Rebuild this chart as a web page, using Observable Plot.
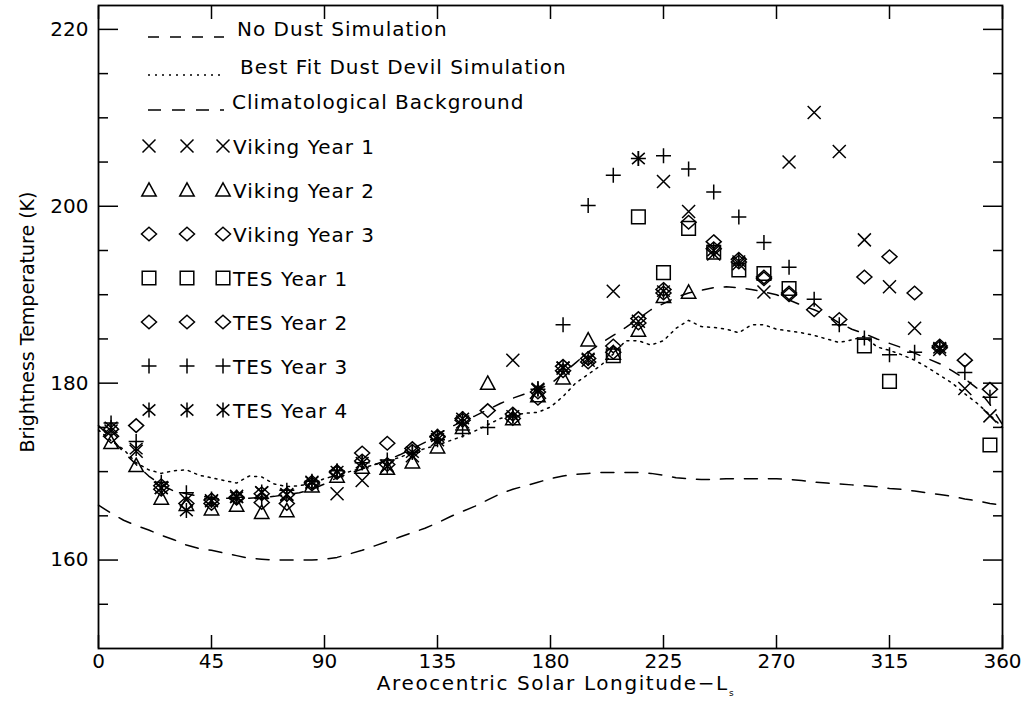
<!DOCTYPE html>
<html><head><meta charset="utf-8">
<script src="https://cdn.jsdelivr.net/npm/d3@7"></script>
<script src="https://cdn.jsdelivr.net/npm/@observablehq/plot@0.6"></script>
<style>body{margin:0;background:#fff;} #chart{width:1029px;height:721px;}</style>
</head><body><div id="chart"></div>
<script>
// ---- Observations (Ls bins) ----
const lsObs = [5,15,25,35,45,55,65,75,85,95,105,115,125,135,145,155,165,175,185,195,205,215,225,235,245,255,265,275,285,295,305,315,325,335,345,355];
const vikingYear1 = [174.6,172.3,168.2,166.8,166.7,167.2,167.6,167.4,168.8,167.5,169.0,170.6,171.8,173.6,175.6,null,182.6,179.2,181.7,182.6,190.4,187.0,202.8,199.4,194.6,193.5,190.3,205.0,210.6,206.2,196.2,190.9,186.2,183.8,179.4,176.3];
const vikingYear2 = [173.3,170.7,167.0,166.3,165.8,166.2,165.4,165.6,168.4,169.5,170.5,170.4,171.1,172.8,175.0,180.0,176.0,178.6,180.6,184.9,183.4,186.0,189.8,190.3,null,null,null,null,null,null,null,null,null,null,null,null];
const vikingYear3 = [174.0,175.2,168.4,166.4,166.4,167.0,166.5,166.4,168.6,169.9,172.1,173.2,172.6,173.9,176.0,176.9,176.0,178.3,181.4,182.4,184.2,187.3,190.6,198.2,196.0,194.0,192.0,190.2,null,null,192.0,194.3,190.2,184.0,182.6,179.3];
const tesYear1 = [null,null,null,null,null,null,null,null,null,null,null,null,null,null,null,null,null,null,null,null,183.1,198.8,192.5,197.5,194.8,192.8,192.4,190.7,null,null,184.2,180.2,null,null,null,173.0];
const tesYear2 = [174.8,null,168.0,null,166.8,167.1,167.5,167.4,168.8,170.0,171.2,170.8,172.3,174.0,175.8,null,176.5,179.0,181.9,182.8,183.5,186.8,190.2,null,195.2,193.7,191.8,190.0,188.3,187.2,null,null,null,184.2,null,null];
const tesYear3 = [175.5,173.4,168.8,167.6,166.9,167.1,167.0,167.9,168.9,170.1,171.0,171.3,172.2,173.6,174.7,175.0,176.3,179.3,186.6,200.1,203.5,205.4,205.7,204.2,201.6,198.8,195.9,193.1,189.5,186.6,185.1,183.2,183.5,184.1,181.2,178.4];
const tesYear4 = [175.0,172.6,168.1,165.6,166.7,167.1,167.7,167.4,168.8,170.0,171.0,170.6,172.2,174.0,176.0,null,176.3,179.4,181.8,182.8,null,205.4,190.4,null,195.0,193.8,null,null,null,null,null,null,null,184.0,null,null];

// ---- Model curves (every 5 deg Ls) ----
const lsModel = [0,5,10,15,20,25,30,35,40,45,50,55,60,65,70,75,80,85,90,95,100,105,110,115,120,125,130,135,140,145,150,155,160,165,170,175,180,185,190,195,200,205,210,215,220,225,230,235,240,245,250,255,260,265,270,275,280,285,290,295,300,305,310,315,320,325,330,335,340,345,350,355,360];
const noDustSim = [175.2,173.8,172.2,170.8,169.5,168.5,167.8,167.5,167.2,167.1,167.0,167.0,167.0,167.1,167.2,167.4,167.6,168.0,168.6,169.3,169.8,170.3,170.8,171.3,171.9,172.6,173.3,174.2,175.0,175.7,176.3,177.0,177.7,178.3,178.8,179.3,179.9,181.1,182.3,183.5,184.5,185.4,186.3,187.3,188.3,189.0,189.7,190.2,190.5,190.8,190.9,190.8,190.6,190.3,190.0,189.4,188.8,188.3,187.7,186.8,186.1,185.6,185.0,184.5,184.0,183.4,182.8,182.2,181.4,180.5,179.4,177.6,175.3];
const bestFitDustDevil = [174.7,173.5,172.5,171.0,170.2,169.8,170.1,170.2,169.6,169.3,169.0,168.7,169.5,169.4,168.6,168.3,168.4,168.7,169.2,169.6,170.0,170.4,170.8,171.2,171.6,172.2,172.6,173.0,173.5,174.0,174.6,175.3,176.0,176.4,176.6,176.7,177.3,178.5,180.0,181.0,182.0,183.3,184.8,184.8,184.3,184.8,186.2,187.1,186.4,186.3,186.1,185.7,186.6,186.6,186.1,185.9,185.7,185.4,185.0,184.6,184.9,185.3,184.1,183.7,183.2,182.6,181.8,180.9,180.0,178.8,177.7,176.4,175.0];
const climBackground = [166.2,165.3,164.5,163.9,163.4,162.8,162.3,161.7,161.3,161.1,160.8,160.5,160.2,160.1,160.0,160.0,160.0,160.0,160.1,160.3,160.7,161.1,161.6,162.1,162.6,163.1,163.6,164.2,164.9,165.5,166.1,166.8,167.5,168.0,168.4,168.8,169.2,169.5,169.7,169.8,169.9,169.9,169.9,169.9,169.8,169.6,169.3,169.2,169.1,169.1,169.2,169.2,169.2,169.2,169.2,169.1,169.0,168.8,168.7,168.6,168.5,168.4,168.3,168.1,168.0,167.8,167.6,167.4,167.2,166.9,166.7,166.4,166.2];

// ---- Ticks ----
const xTicks = [0,45,90,135,180,225,270,315,360];
const yMajorTicks = [160,180,200,220];
const yMinorTicks = [155,165,170,175,185,190,195,205,210,215];

// ---- IDL-like symbols (size -> half extent r) ----
const R = s => Math.sqrt(s / Math.PI);
const symTimes = {draw(c, s){const r = R(s); c.moveTo(-r,-r); c.lineTo(r,r); c.moveTo(-r,r); c.lineTo(r,-r);}};
const symPlus = {draw(c, s){const r = R(s); c.moveTo(-r,0); c.lineTo(r,0); c.moveTo(0,-r); c.lineTo(0,r);}};
const symTriangle = {draw(c, s){const r = R(s); c.moveTo(0,-r); c.lineTo(r,r*0.85); c.lineTo(-r,r*0.85); c.closePath();}};
const symSquare = {draw(c, s){const r = R(s); c.rect(-r,-r,2*r,2*r);}};
const symDiamond = {draw(c, s){const r = R(s); const v = r*0.9; c.moveTo(0,-v); c.lineTo(r,0); c.lineTo(0,v); c.lineTo(-r,0); c.closePath();}};
const symAsterisk = {draw(c, s){const r = R(s); const a = r*0.85, b = r*0.75; c.moveTo(0,-r); c.lineTo(0,r); c.moveTo(-a,-b); c.lineTo(a,b); c.moveTo(-a,b); c.lineTo(a,-b);}};

const series = [
  {name: "Viking Year 1", values: vikingYear1, symbol: symTimes, r: 6.5},
  {name: "Viking Year 2", values: vikingYear2, symbol: symTriangle, r: 7.2},
  {name: "Viking Year 3", values: vikingYear3, symbol: symDiamond, r: 7.5},
  {name: "TES Year 1", values: tesYear1, symbol: symSquare, r: 6.8},
  {name: "TES Year 2", values: tesYear2, symbol: symDiamond, r: 7.5},
  {name: "TES Year 3", values: tesYear3, symbol: symPlus, r: 7.5},
  {name: "TES Year 4", values: tesYear4, symbol: symAsterisk, r: 7.5}
];

const lines = [
  {name: "No Dust Simulation", values: noDustSim, dash: "11 11", x0: 237},
  {name: "Best Fit Dust Devil Simulation", values: bestFitDustDevil, dash: "2 5", x0: 240},
  {name: "Climatological Background", values: climBackground, dash: "13 11", x0: 232}
];

const FONT = "DejaVu Sans";
const ink = "#000";

const marks = [];
for (const l of lines) {
  marks.push(Plot.line(l.values, {x: lsModel, y: l.values, stroke: ink, strokeWidth: 1.5, strokeDasharray: l.dash}));
}
for (const s of series) {
  const pts = [];
  s.values.forEach((v, i) => { if (v != null) pts.push({ls: lsObs[i], t: v}); });
  marks.push(Plot.dot(pts, {x: "ls", y: "t", symbol: s.symbol, r: s.r, fill: "none", stroke: ink, strokeWidth: 1.5}));
}
marks.push(
  Plot.frame({stroke: ink, strokeWidth: 1.8}),
  Plot.axisX(xTicks, {anchor: "bottom", tickSize: -13, tickPadding: 18, label: null, strokeWidth: 1.5, fontSize: 20, tickFormat: d => String(d)}),
  Plot.axisX(xTicks, {anchor: "top", tickSize: -13, label: null, strokeWidth: 1.5, tickFormat: () => ""}),
  Plot.axisY(yMajorTicks, {anchor: "left", tickSize: -20, tickPadding: 30, label: null, strokeWidth: 1.5, fontSize: 20, tickFormat: d => String(d)}),
  Plot.axisY(yMajorTicks, {anchor: "right", tickSize: -20, label: null, strokeWidth: 1.5, tickFormat: () => ""}),
  Plot.axisY(yMinorTicks, {anchor: "left", tickSize: -10, label: null, strokeWidth: 1.5, tickFormat: () => ""}),
  Plot.axisY(yMinorTicks, {anchor: "right", tickSize: -10, label: null, strokeWidth: 1.5, tickFormat: () => ""})
);

const chart = Plot.plot({
  width: 1029, height: 721,
  marginLeft: 98, marginRight: 27, marginTop: 5, marginBottom: 73,
  x: {domain: [0, 360]},
  y: {domain: [150, 222.7]},
  style: {fontFamily: FONT, fontSize: "20px", color: ink, background: "#fff"},
  marks
});
document.getElementById("chart").appendChild(chart);

// ---- Titles and legend ----
const svg = d3.select(chart);
const xt = svg.append("text").attr("x", 556).attr("y", 690).attr("text-anchor", "middle")
  .attr("font-family", FONT).attr("font-size", 20).attr("letter-spacing", 1.6).attr("fill", ink);
xt.append("tspan").text("Areocentric Solar Longitude\u2212L");
xt.append("tspan").attr("font-size", 9).attr("dy", 6).text("s");
svg.append("text").attr("transform", "translate(34,322) rotate(-90)").attr("text-anchor", "middle")
  .attr("font-family", FONT).attr("font-size", 19).attr("fill", ink)
  .text("Brightness Temperature (K)");

const leg = svg.append("g").attr("font-family", FONT).attr("font-size", 20).attr("letter-spacing", 1.0)
  .attr("text-anchor", "start").attr("fill", ink);
const lineRowsY = [36, 74, 109];
lines.forEach((l, i) => {
  const y = lineRowsY[i];
  leg.append("path").attr("d", `M148,${y + 1}H224`).attr("stroke", ink).attr("stroke-width", 1.5)
    .attr("fill", "none").attr("stroke-dasharray", l.dash);
  leg.append("text").attr("x", l.x0).attr("y", y).text(l.name);
});
const symRowsY = [146, 190, 234, 278, 322, 366, 410];
series.forEach((s, i) => {
  const y = symRowsY[i];
  for (const x of [149, 187, 223]) {
    leg.append("path").attr("transform", `translate(${x},${y})`)
      .attr("d", d3.symbol().type(s.symbol).size(s.r * s.r * Math.PI)())
      .attr("fill", "none").attr("stroke", ink).attr("stroke-width", 1.5);
  }
  leg.append("text").attr("x", 233).attr("y", y + 7.5).text(s.name);
});
</script>
</body></html>
